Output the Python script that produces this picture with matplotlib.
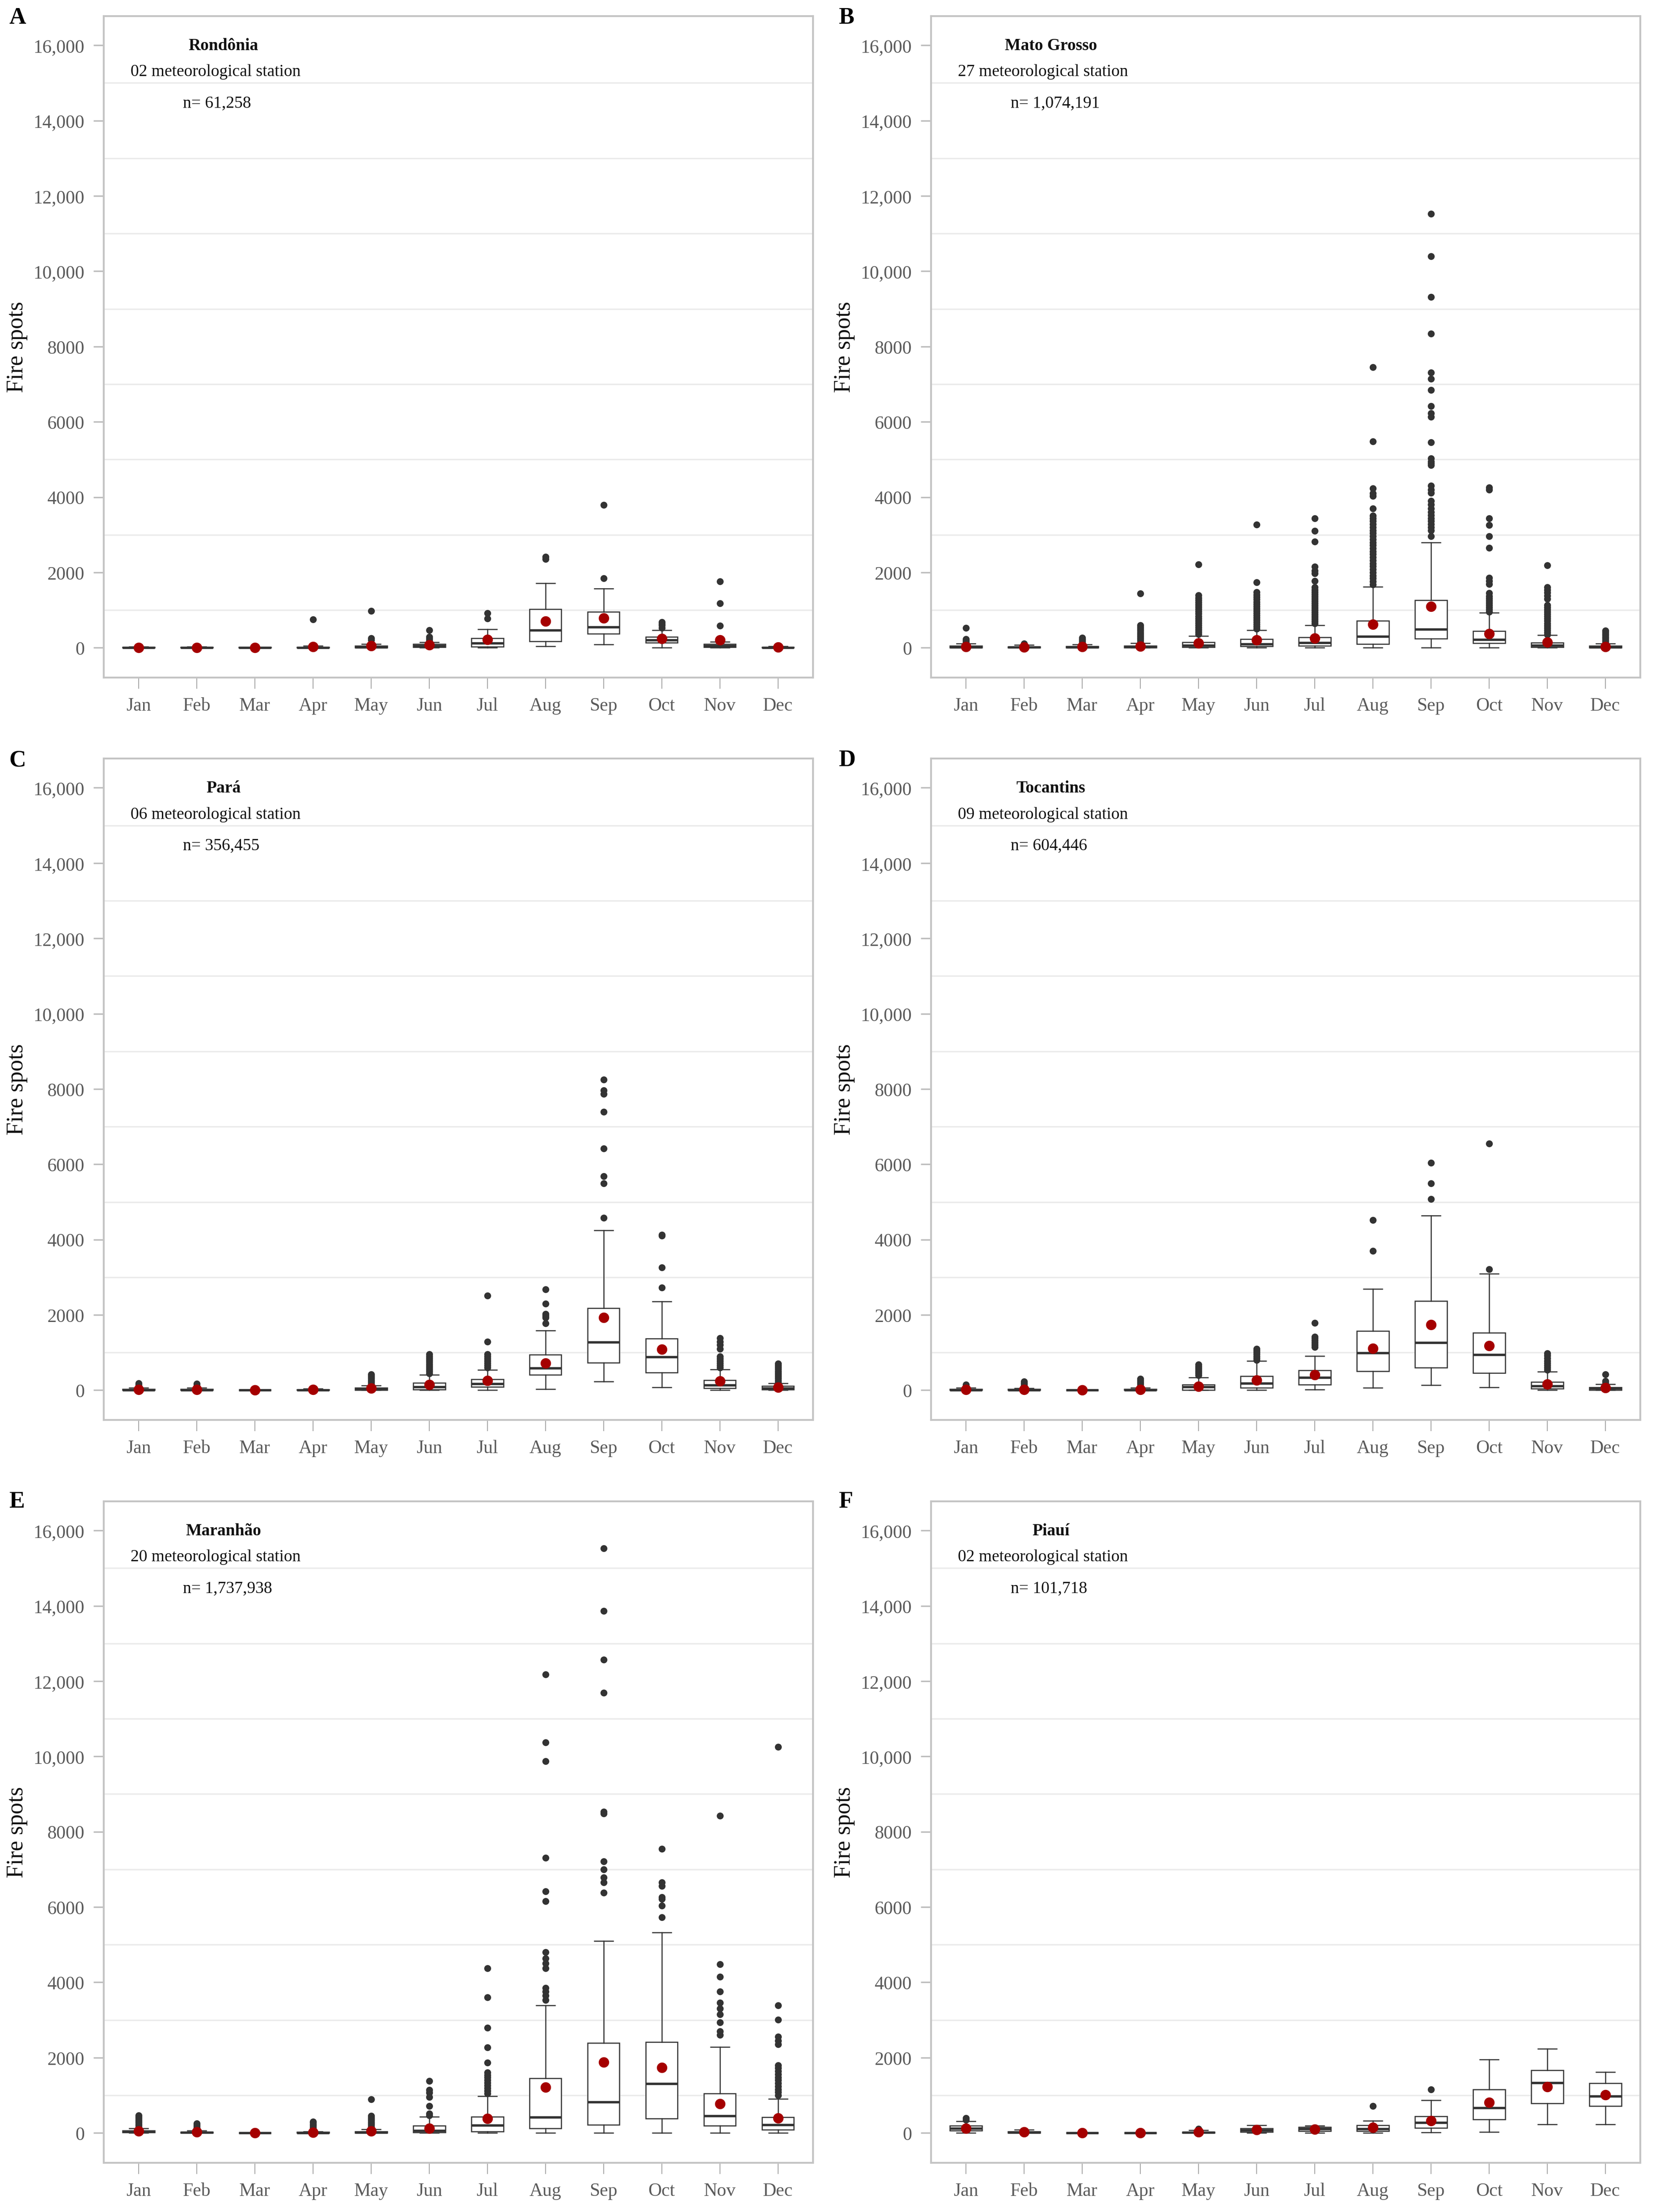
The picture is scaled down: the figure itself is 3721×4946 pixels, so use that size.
import matplotlib
matplotlib.use("Agg")
import matplotlib.pyplot as plt
import matplotlib.transforms as mtransforms
from matplotlib.ticker import FixedLocator, FuncFormatter

plt.rcParams["font.family"] = ["Liberation Serif", "DejaVu Serif"]

months = ["Jan", "Feb", "Mar", "Apr", "May", "Jun", "Jul", "Aug", "Sep", "Oct", "Nov", "Dec"]

# A - Rondonia
ro_low = [0, 0, 0, 0, 0, 0, 0, 33, 83, 0, 0, 0]
ro_q1 = [0, 0, 0, 0, 5, 10, 30, 167, 367, 138, 20, 0]
ro_med = [5, 3, 2, 5, 20, 50, 125, 463, 555, 200, 50, 5]
ro_q3 = [15, 10, 10, 20, 50, 100, 250, 1025, 950, 292, 100, 20]
ro_high = [30, 25, 20, 45, 100, 140, 490, 1710, 1576, 463, 158, 40]
ro_mean = [8, 5, 4, 30, 55, 80, 220, 700, 792, 242, 200, 12]
ro_out = [[], [], [], [750], [980, 250, 200], [463, 283, 240, 190], [917, 775],
          [2410, 2350], [1847, 3795], [680, 630, 600, 530], [584, 1180, 1764], []]

# B - Mato Grosso
mt_low = [0, 0, 0, 0, 0, 0, 0, 0, 0, 0, 0, 0]
mt_q1 = [5, 3, 5, 8, 20, 40, 50, 99, 236, 117, 18, 5]
mt_med = [20, 10, 15, 25, 60, 100, 130, 297, 493, 216, 57, 20]
mt_q3 = [50, 30, 40, 55, 150, 225, 275, 715, 1265, 446, 137, 50]
mt_high = [110, 70, 90, 120, 315, 465, 596, 1614, 2792, 931, 335, 115]
mt_mean = [30, 18, 22, 40, 120, 205, 255, 624, 1100, 374, 150, 30]
mt_out = [
    [130, 150, 170, 190, 210, 230, 520],
    [80, 95, 110],
    [110, 140, 170, 200, 230, 260],
    [150, 200, 250, 300, 350, 400, 450, 500, 550, 600, 1435],
    [360, 420, 480, 540, 600, 660, 720, 780, 840, 900, 960, 1020, 1080, 1140, 1200, 1260,
     1320, 1390, 2210],
    [500, 560, 620, 680, 740, 800, 860, 920, 980, 1040, 1100, 1160, 1220, 1280, 1340, 1400,
     1480, 1737, 3265],
    [640, 700, 760, 820, 880, 940, 1000, 1060, 1120, 1180, 1240, 1300, 1360, 1420, 1480, 1540,
     1610, 1772, 1970, 2050, 2150, 2820, 3100, 3433],
    [1680, 1760, 1840, 1920, 2000, 2080, 2160, 2240, 2320, 2400, 2480, 2560, 2640, 2720, 2800,
     2880, 2960, 3040, 3120, 3200, 3280, 3360, 3440, 3510, 3693, 4030, 4100, 4230, 5480, 7450],
    [2960, 3120, 3200, 3280, 3360, 3440, 3520, 3600, 3700, 3800, 3900, 4110, 4200, 4300, 4850,
     4900, 4950, 5030, 5455, 6130, 6230, 6420, 6840, 7140, 7310, 8345, 9320, 10400, 11530],
    [950, 1010, 1070, 1130, 1190, 1250, 1310, 1370, 1455, 1693, 1770, 1851, 2651, 2960, 3257,
     3435, 4200, 4260],
    [350, 410, 470, 530, 590, 650, 710, 770, 830, 890, 950, 1010, 1070, 1130, 1300, 1380, 1460,
     1540, 1610, 2194],
    [130, 170, 210, 250, 290, 330, 370, 420, 460],
]

# C - Para
pa_low = [0, 0, 0, 0, 0, 0, 0, 25, 232, 74, 0, 0]
pa_q1 = [0, 0, 0, 0, 5, 20, 84, 405, 726, 470, 50, 20]
pa_med = [10, 8, 2, 5, 30, 84, 168, 588, 1275, 890, 138, 50]
pa_q3 = [30, 30, 8, 20, 60, 198, 287, 939, 2174, 1373, 262, 114]
pa_high = [60, 60, 15, 40, 128, 415, 544, 1581, 4248, 2362, 553, 188]
pa_mean = [20, 20, 8, 12, 55, 148, 257, 716, 1930, 1087, 247, 74]
pa_out = [
    [90, 120, 150, 180],
    [90, 120, 170],
    [],
    [],
    [150, 190, 230, 270, 310, 350, 390, 420],
    [450, 500, 550, 600, 650, 700, 750, 800, 850, 900, 960],
    [600, 660, 720, 780, 840, 900, 950, 1294, 2510],
    [1780, 1930, 1980, 2030, 2300, 2678],
    [4577, 5495, 5685, 6422, 7388, 7870, 7970, 8255],
    [2727, 3260, 4101, 4130],
    [600, 660, 720, 780, 840, 900, 1100, 1200, 1290, 1380],
    [210, 260, 310, 360, 410, 460, 510, 560, 610, 660, 710],
]

# D - Tocantins
to_low = [0, 0, 0, 0, 0, 0, 15, 59, 138, 74, 0, 0]
to_q1 = [0, 0, 0, 0, 10, 69, 148, 499, 598, 459, 40, 10]
to_med = [10, 8, 3, 8, 89, 183, 336, 988, 1265, 944, 114, 49]
to_q3 = [30, 25, 10, 30, 153, 375, 528, 1571, 2371, 1521, 222, 74]
to_high = [60, 55, 20, 60, 336, 780, 904, 2687, 4634, 3088, 494, 163]
to_mean = [20, 20, 8, 20, 99, 262, 410, 1111, 1744, 1186, 163, 64]
to_out = [
    [90, 120, 150],
    [80, 110, 140, 170, 200, 230],
    [],
    [90, 130, 170, 210, 250, 300],
    [400, 440, 480, 520, 560, 600, 640, 680],
    [800, 850, 900, 950, 1000, 1050, 1100],
    [1140, 1200, 1260, 1320, 1380, 1420, 1788],
    [3705, 4520],
    [5078, 5498, 6040],
    [3211, 6550],
    [540, 600, 660, 720, 780, 850, 920, 980],
    [200, 240, 425],
]

# E - Maranhao
ma_low = [0, 0, 0, 0, 0, 0, 0, 0, 0, 0, 0, 0]
ma_q1 = [10, 0, 0, 0, 0, 16, 40, 119, 213, 387, 190, 87]
ma_med = [32, 10, 2, 5, 15, 63, 205, 419, 822, 1304, 451, 221]
ma_q3 = [63, 30, 8, 20, 40, 190, 435, 1447, 2387, 2411, 1051, 419]
ma_high = [119, 60, 15, 40, 103, 435, 980, 3383, 5099, 5328, 2277, 901]
ma_mean = [55, 20, 8, 15, 55, 119, 380, 1209, 1874, 1731, 775, 395]
ma_out = [
    [150, 190, 230, 270, 310, 350, 390, 430, 466],
    [90, 120, 150, 180, 210, 253],
    [],
    [70, 110, 150, 190, 230, 270, 300],
    [130, 170, 210, 250, 290, 330, 370, 410, 450, 893],
    [470, 514, 711, 949, 1067, 1146, 1383],
    [1050, 1120, 1190, 1260, 1330, 1400, 1470, 1540, 1600, 1870, 2269, 2790, 3605, 4379],
    [3533, 3650, 3755, 3850, 4379, 4500, 4640, 4798, 6158, 6411, 7312, 9870, 10370, 12180],
    [6380, 6657, 6780, 6997, 7210, 8480, 8530, 11690, 12570, 13870, 15530],
    [5723, 6032, 6220, 6260, 6562, 6650, 7549],
    [2601, 2700, 2941, 3150, 3300, 3455, 3755, 4142, 4482, 8427],
    [1000, 1080, 1160, 1240, 1320, 1400, 1480, 1560, 1640, 1720, 1800, 2350, 2450, 2550, 3004,
     3383, 10250],
]

# F - Piaui
pi_low = [0, 0, 0, 0, 0, 0, 0, 0, 10, 20, 229, 229]
pi_q1 = [59, 0, 0, 0, 0, 24, 44, 44, 132, 361, 791, 717]
pi_med = [117, 15, 2, 2, 10, 73, 107, 107, 278, 668, 1337, 971]
pi_q3 = [190, 40, 5, 5, 30, 122, 156, 205, 439, 1157, 1669, 1318]
pi_high = [312, 80, 10, 10, 70, 205, 190, 322, 864, 1952, 2230, 1620]
pi_mean = [117, 29, 3, 3, 29, 83, 98, 146, 327, 815, 1230, 1010]
pi_out = [[350, 400], [], [], [], [110], [], [], [717], [1157], [], [], []]

letters = ["A", "B", "C", "D", "E", "F"]
states = ["Rondônia", "Mato Grosso", "Pará", "Tocantins", "Maranhão", "Piauí"]
stations = ["02 meteorological station", "27 meteorological station", "06 meteorological station",
            "09 meteorological station", "20 meteorological station", "02 meteorological station"]
counts = ["n= 61,258", "n= 1,074,191", "n= 356,455", "n= 604,446", "n= 1,737,938", "n= 101,718"]

series = [
    (ro_low, ro_q1, ro_med, ro_q3, ro_high, ro_mean, ro_out),
    (mt_low, mt_q1, mt_med, mt_q3, mt_high, mt_mean, mt_out),
    (pa_low, pa_q1, pa_med, pa_q3, pa_high, pa_mean, pa_out),
    (to_low, to_q1, to_med, to_q3, to_high, to_mean, to_out),
    (ma_low, ma_q1, ma_med, ma_q3, ma_high, ma_mean, ma_out),
    (pi_low, pi_q1, pi_med, pi_q3, pi_high, pi_mean, pi_out),
]

dark = "#333333"
red = "#a50000"
border = "#c4c4c4"

fig = plt.figure(figsize=(3721 / 300, 4947 / 300), dpi=300)

lefts = [0.0623, 0.5595]
bottoms = [0.6936, 0.3580, 0.0223]
letter_x = [0.0054, 0.5039]
letter_y = [0.9893, 0.6537, 0.3186]
pos = list(range(1, 13))


def fmt(v, _):
    return f"{v:,.0f}" if v >= 10000 else f"{v:.0f}"


for i, (low, q1, med, q3, high, mean, out) in enumerate(series):
    r, c = divmod(i, 2)
    ax = fig.add_axes([lefts[c], bottoms[r], 0.4262, 0.2990])

    stats = []
    for k in range(12):
        stats.append(dict(whislo=low[k], q1=q1[k], med=med[k], q3=q3[k],
                          whishi=high[k], fliers=out[k]))
    ax.bxp(stats, positions=pos, widths=0.55, capwidths=0.32, patch_artist=True,
           boxprops=dict(facecolor="white", edgecolor=dark, linewidth=0.6),
           whiskerprops=dict(color=dark, linewidth=0.6),
           capprops=dict(color=dark, linewidth=0.6),
           medianprops=dict(color=dark, linewidth=1.3),
           flierprops=dict(marker="o", markerfacecolor=dark, markeredgecolor="none",
                           markersize=3.7))
    ax.plot(pos, mean, "o", color=red, markersize=5.6, markeredgecolor="none", zorder=5)

    ax.set_xlim(0.4, 12.6)
    ax.set_ylim(-790, 16780)
    ax.set_xticks(pos)
    ax.set_xticklabels(months)
    ax.yaxis.set_major_locator(FixedLocator(range(0, 16001, 2000)))
    ax.yaxis.set_major_formatter(FuncFormatter(fmt))
    ax.yaxis.set_minor_locator(FixedLocator(range(1000, 16000, 2000)))
    ax.grid(True, which="minor", axis="y", color="#ebebeb", linewidth=0.8)
    ax.set_axisbelow(True)

    ax.tick_params(axis="y", which="major", length=5.5, width=0.8, color="#bdbdbd", pad=4.8,
                   labelsize=10, labelcolor="#5a5a5a")
    ax.tick_params(axis="x", length=6, width=0.5, color="#aaaaaa", pad=4.5,
                   labelsize=10, labelcolor="#5a5a5a")
    ax.tick_params(which="minor", length=0)
    for s in ax.spines.values():
        s.set_color(border)
        s.set_linewidth(1.0)

    ax.set_ylabel("Fire spots", fontsize=12.5, color="#111111")
    ax.yaxis.set_label_coords(-0.107, 0.5)

    tr = mtransforms.blended_transform_factory(ax.transAxes, ax.transData)
    ax.text(0.169, 16000, states[i], transform=tr, ha="center", va="center",
            fontsize=9, fontweight="bold", color="#111111")
    ax.text(0.038, 15300, stations[i], transform=tr, ha="left", va="center",
            fontsize=9, color="#111111")
    ax.text(0.112, 14470, counts[i], transform=tr, ha="left", va="center",
            fontsize=9, color="#111111")

    fig.text(letter_x[c], letter_y[r], letters[i], ha="left", va="baseline",
             fontsize=12.5, fontweight="bold")

fig.savefig("out.png", dpi=300)
